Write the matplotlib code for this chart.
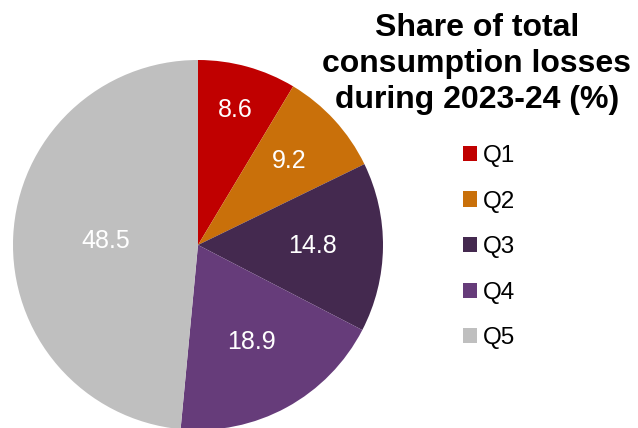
import numpy as np
import matplotlib.pyplot as plt

plt.rcParams['font.family'] = ['Liberation Sans', 'DejaVu Sans']

quintiles = ["Q1", "Q2", "Q3", "Q4", "Q5"]
shares = [8.6, 9.2, 14.8, 18.9, 48.5]
colors = ["#C00000", "#C9700A", "#44294F", "#663C7A", "#BFBFBF"]
title = "Share of total\nconsumption losses\nduring 2023-24 (%)"

W, H = 638, 428
fig = plt.figure(figsize=(W / 100, H / 100), dpi=100)

# pie centre and radius in pixels
cx, cy, r = 198, 245, 185
ax = fig.add_axes([(cx - r) / W, (H - cy - r) / H, 2 * r / W, 2 * r / H])

wedges, texts = ax.pie(shares, colors=colors, startangle=90, counterclock=False,
                       radius=1, wedgeprops=dict(linewidth=0))
ax.set_xlim(-1, 1)
ax.set_ylim(-1, 1)
ax.set_aspect('equal')
ax.axis('off')

# distance of each value label from the centre (fraction of radius)
label_r = [0.76, 0.67, 0.62, 0.6, 0.5]
for w, v, lr in zip(wedges, shares, label_r):
    ang = np.deg2rad((w.theta1 + w.theta2) / 2)
    ax.text(lr * np.cos(ang), lr * np.sin(ang), f"{v:.1f}", color="white",
            fontsize=18, ha="center", va="center")

fig.text(477 / W, 1 - 13 / H, title, ha="center", va="top", fontsize=23,
         fontweight="bold", linespacing=1.27)

leg = fig.legend(wedges, quintiles, loc="upper left",
                 bbox_to_anchor=(463 / W, 1 - 145 / H), frameon=False,
                 fontsize=17.5, handlelength=0.58, handleheight=0.58,
                 handletextpad=0.25, labelspacing=0.97,
                 borderpad=0, borderaxespad=0)

fig.savefig("out.png", dpi=100)
